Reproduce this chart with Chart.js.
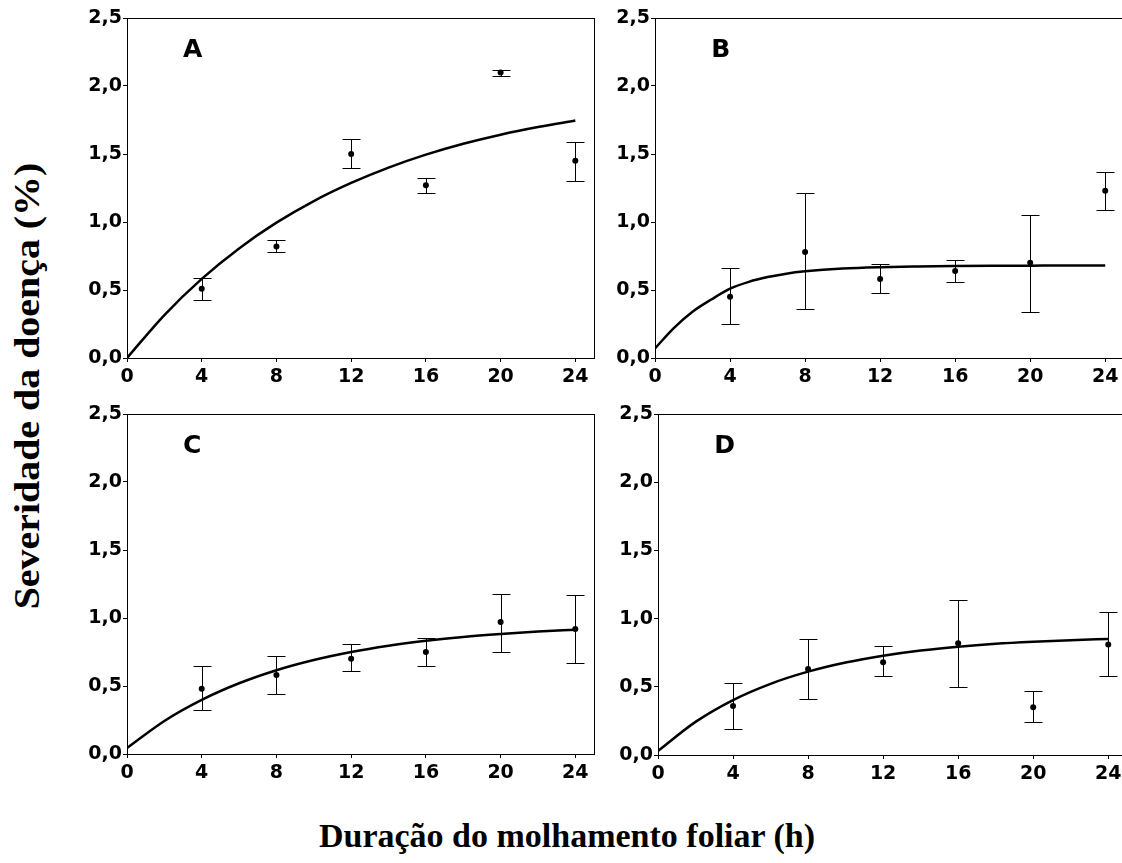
<!DOCTYPE html>
<html>
<head>
<meta charset="utf-8">
<script src="https://cdn.jsdelivr.net/npm/chart.js@4.4.1/dist/chart.umd.min.js"></script>
<style>
  html, body { margin: 0; padding: 0; background: #fff; overflow: hidden; width: 1122px; height: 863px; }
  canvas { position: absolute; }
  .title { position: absolute; font-family: 'Liberation Serif', 'Times New Roman', serif; font-weight: bold; color: #000; white-space: nowrap; }
  #ytitle { left: 28px; top: 386px; font-size: 35px; transform: translate(-50%, -50%) rotate(-90deg) scaleX(1.14); }
  #xtitle { left: 567px; top: 836px; font-size: 34px; transform: translate(-50%, -50%); }
</style>
</head>
<body>
<canvas id="cA"></canvas>
<canvas id="cB"></canvas>
<canvas id="cC"></canvas>
<canvas id="cD"></canvas>
<div class="title" id="ytitle">Severidade da doença (%)</div>
<div class="title" id="xtitle">Duração do molhamento foliar (h)</div>
<script>
// observed means and error bar limits
var hours = [4, 8, 12, 16, 20, 24];

var sevA  = [0.51, 0.82, 1.50, 1.27, 2.10, 1.45];
var lowA  = [0.43, 0.78, 1.40, 1.21, 2.07, 1.30];
var highA = [0.59, 0.87, 1.61, 1.32, 2.12, 1.59];

var sevB  = [0.45, 0.78, 0.58, 0.64, 0.70, 1.23];
var lowB  = [0.25, 0.36, 0.48, 0.56, 0.34, 1.09];
var highB = [0.66, 1.21, 0.69, 0.72, 1.05, 1.37];

var sevC  = [0.48, 0.58, 0.70, 0.75, 0.97, 0.92];
var lowC  = [0.32, 0.44, 0.61, 0.65, 0.75, 0.67];
var highC = [0.65, 0.72, 0.81, 0.85, 1.18, 1.17];

var sevD  = [0.36, 0.63, 0.68, 0.82, 0.35, 0.81];
var lowD  = [0.19, 0.41, 0.58, 0.50, 0.24, 0.58];
var highD = [0.53, 0.85, 0.80, 1.14, 0.47, 1.05];

// fitted curves
var fitHours = [0, 2, 4, 6, 8, 10, 12, 14, 16, 18, 20, 22, 24];
var fitA = [0.00, 0.316, 0.582, 0.806, 0.995, 1.154, 1.287, 1.400, 1.495, 1.575, 1.642, 1.698, 1.746];
var fitC = [0.044, 0.243, 0.398, 0.52, 0.616, 0.691, 0.75, 0.796, 0.832, 0.861, 0.883, 0.901, 0.914];
var fitD = [0.03, 0.243, 0.403, 0.522, 0.611, 0.678, 0.728, 0.766, 0.794, 0.815, 0.830, 0.842, 0.851];
var fitHoursB = [0, 1, 2, 3, 4, 5, 6, 7, 8, 10, 12, 14, 16, 18, 20, 22, 24];
var fitB = [0.07, 0.22, 0.34, 0.43, 0.51, 0.56, 0.595, 0.62, 0.637, 0.658, 0.668, 0.673, 0.676, 0.678, 0.679, 0.68, 0.68];

var xTicks = [0, 4, 8, 12, 16, 20, 24];
var yTicks = [0, 0.5, 1.0, 1.5, 2.0, 2.5];

var tickFont = { family: "'DejaVu Sans', sans-serif", weight: 'bold', size: 19 };

var errorBars = {
  id: 'errorBars',
  afterDatasetsDraw: function(chart) {
    var ctx = chart.ctx, ys = chart.scales.y;
    chart.data.datasets.forEach(function(ds, i) {
      if (!ds.errLow) return;
      var meta = chart.getDatasetMeta(i);
      ctx.save();
      ctx.strokeStyle = '#000';
      ctx.lineWidth = 1;
      meta.data.forEach(function(pt, j) {
        var x = Math.round(pt.x) + 0.5;
        var y1 = Math.round(ys.getPixelForValue(ds.errLow[j])) + 0.5;
        var y2 = Math.round(ys.getPixelForValue(ds.errHigh[j])) + 0.5;
        ctx.beginPath();
        ctx.moveTo(x, y1); ctx.lineTo(x, y2);
        ctx.moveTo(x - 9, y1); ctx.lineTo(x + 9, y1);
        ctx.moveTo(x - 9, y2); ctx.lineTo(x + 9, y2);
        ctx.stroke();
      });
      ctx.restore();
    });
  }
};

var frame = {
  id: 'frame',
  afterDraw: function(chart, args, opts) {
    var a = chart.chartArea, ctx = chart.ctx;
    ctx.save();
    ctx.strokeStyle = '#000';
    ctx.lineWidth = 1;
    ctx.strokeRect(Math.round(a.left) + 0.5, Math.round(a.top) + 0.5,
                   Math.round(a.right - a.left), Math.round(a.bottom - a.top));
    ctx.fillStyle = '#000';
    ctx.font = "bold 25px 'DejaVu Sans', sans-serif";
    ctx.textBaseline = 'middle';
    ctx.fillText(opts.text, chart.scales.x.getPixelForValue(3), chart.scales.y.getPixelForValue(2.26));
    ctx.restore();
  }
};

function makePanel(id, letter, left, top, w, h, sev, low, high, fx, fy) {
  var cv = document.getElementById(id);
  cv.width = 60 + w + 8;
  cv.height = 18 + h + 40;
  cv.style.left = (left - 60) + 'px';
  cv.style.top = (top - 18) + 'px';

  var pts = hours.map(function(x, i) { return { x: x, y: sev[i] }; });
  var curve = fx.map(function(x, i) { return { x: x, y: fy[i] }; });

  return new Chart(cv.getContext('2d'), {
    type: 'scatter',
    data: {
      datasets: [{
        data: pts,
        errLow: low,
        errHigh: high,
        pointRadius: 3,
        pointBackgroundColor: '#000',
        pointBorderColor: '#000',
        pointBorderWidth: 0
      }, {
        type: 'line',
        data: curve,
        showLine: true,
        pointRadius: 0,
        borderColor: '#000',
        borderWidth: 2.5,
        fill: false,
        cubicInterpolationMode: 'monotone'
      }]
    },
    options: {
      responsive: false,
      animation: false,
      layout: { padding: { left: 0, top: 18, right: 8, bottom: 0 } },
      plugins: { legend: { display: false }, tooltip: { enabled: false }, frame: { text: letter } },
      scales: {
        x: {
          type: 'linear', min: 0, max: 25,
          afterBuildTicks: function(s) { s.ticks = xTicks.map(function(v) { return { value: v }; }); },
          afterFit: function(s) { s.height = 40; },
          grid: { drawOnChartArea: false, drawTicks: true, tickLength: 4, color: '#000' },
          border: { display: false },
          ticks: { color: '#000', font: tickFont, padding: 4, maxRotation: 0 }
        },
        y: {
          min: 0, max: 2.5,
          afterBuildTicks: function(s) { s.ticks = yTicks.map(function(v) { return { value: v }; }); },
          afterFit: function(s) { s.width = 60; },
          grid: { drawOnChartArea: false, drawTicks: true, tickLength: 4, color: '#000' },
          border: { display: false },
          ticks: {
            color: '#000', font: tickFont, padding: 1,
            callback: function(v) { return v.toFixed(1).replace('.', ','); }
          }
        }
      }
    },
    plugins: [errorBars, frame]
  });
}

makePanel('cA', 'A', 127, 18, 467, 340, sevA, lowA, highA, fitHours, fitA);
makePanel('cB', 'B', 655, 18, 469, 340, sevB, lowB, highB, fitHoursB, fitB);
makePanel('cC', 'C', 127, 414, 467, 340, sevC, lowC, highC, fitHours, fitC);
makePanel('cD', 'D', 658, 414, 469, 341, sevD, lowD, highD, fitHours, fitD);
</script>
</body>
</html>
